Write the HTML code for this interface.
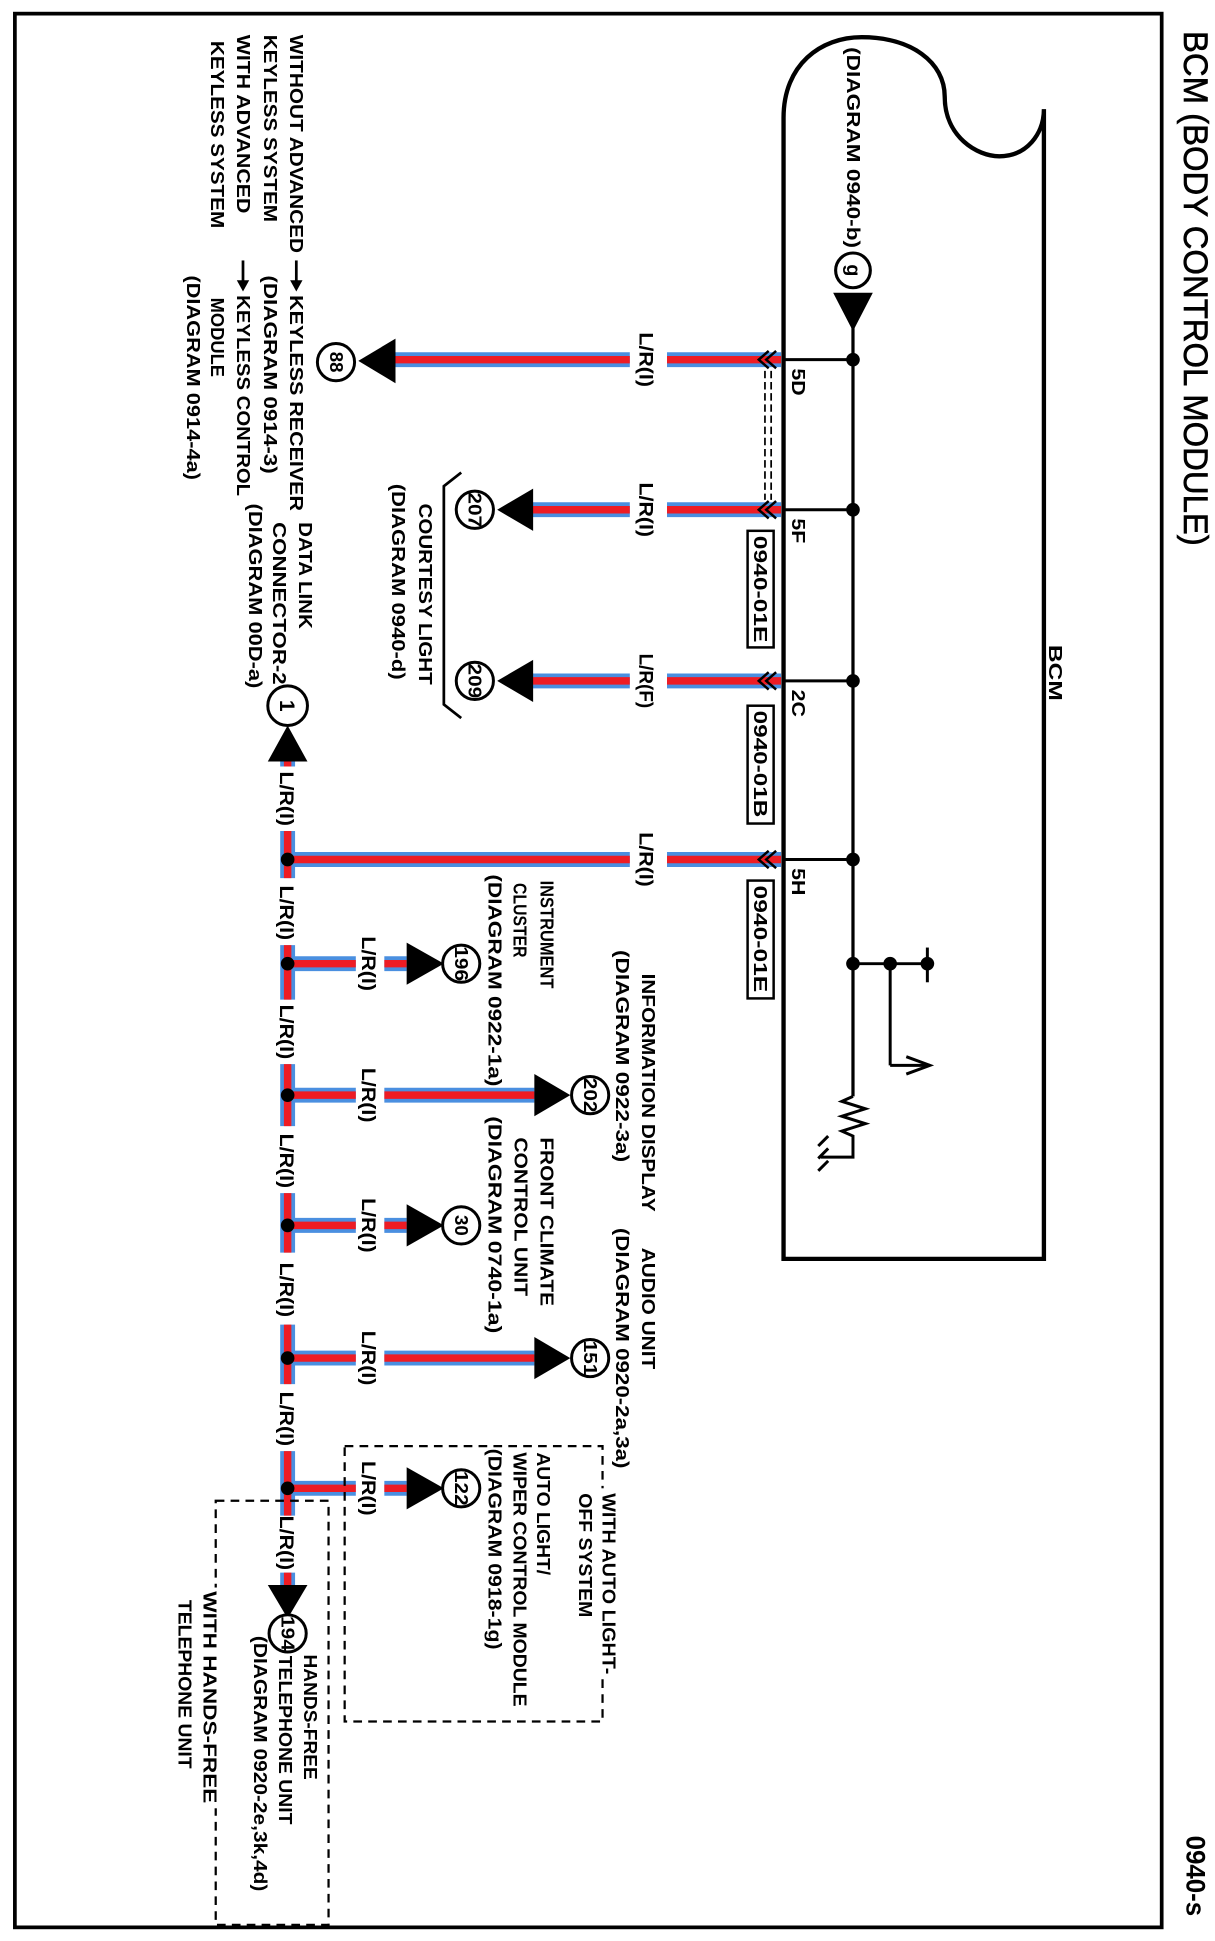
<!DOCTYPE html>
<html><head><meta charset="utf-8"><style>
html,body{margin:0;padding:0;background:#fff;}
svg{display:block;}
text{font-family:"Liberation Sans",Arial,sans-serif;fill:#000;}
.b text{font-weight:bold;}
</style></head><body>
<svg width="1215" height="1941" viewBox="0 0 980 1565" preserveAspectRatio="none" xmlns="http://www.w3.org/2000/svg">
<rect x="0" y="0" width="980" height="1565" fill="#fff"/>
<rect x="12" y="11" width="925" height="1543" fill="none" stroke="#000" stroke-width="3"/>

<!-- Title -->
<text transform="translate(955,25) rotate(90)" font-size="28" textLength="415" lengthAdjust="spacingAndGlyphs" stroke="#000" stroke-width="0.5">BCM (BODY CONTROL MODULE)</text>
<text transform="translate(957,1480) rotate(90)" font-size="22" font-weight="bold" textLength="65" lengthAdjust="spacingAndGlyphs">0940-s</text>

<!-- BCM box -->
<path d="M632,1015 V95 C632,52 662,30 695,30 C735,30 762,50 762,78 C762,110 788,126 806,126 C828,126 842,108 842,88 V1015 Z" fill="none" stroke="#000" stroke-width="3.5"/>
<g class="b">
<text transform="translate(846,520) rotate(90)" font-size="15" textLength="45" lengthAdjust="spacingAndGlyphs">BCM</text>
<text transform="translate(683,38) rotate(90)" font-size="15" textLength="162" lengthAdjust="spacingAndGlyphs">(DIAGRAM 0940-b)</text>
</g>

<!-- g connector -->
<circle cx="688" cy="218" r="14" fill="#fff" stroke="#000" stroke-width="2.5"/>
<text transform="translate(683,218) rotate(90)" font-size="16" font-weight="bold" text-anchor="middle">g</text>
<polygon points="672,236 704,236 688,267" fill="#000"/>

<!-- internal bus -->
<line x1="688" y1="262" x2="688" y2="884" stroke="#000" stroke-width="2.6"/>
<g stroke="#000" stroke-width="2.4">
<line x1="632" y1="290" x2="688" y2="290"/>
<line x1="632" y1="411" x2="688" y2="411"/>
<line x1="632" y1="549" x2="688" y2="549"/>
<line x1="632" y1="693" x2="688" y2="693"/>
<line x1="688" y1="777" x2="748" y2="777"/>
<line x1="748" y1="764" x2="748" y2="792"/>
<line x1="718" y1="777" x2="718" y2="859"/>
<line x1="718" y1="859" x2="750" y2="859"/>
<polyline points="731,852 750,859 731,866" fill="none"/>
<polyline points="688,884 679,888 698,894 679,900 698,906 679,912 688,916 688,933 662,933" fill="none"/>
<line x1="668" y1="916" x2="660" y2="924"/>
<line x1="668" y1="926" x2="660" y2="934"/>
<line x1="668" y1="936" x2="660" y2="944"/>
</g>
<g fill="#000">
<circle cx="688" cy="290" r="5.5"/><circle cx="688" cy="411" r="5.5"/><circle cx="688" cy="549" r="5.5"/>
<circle cx="688" cy="693" r="5.5"/><circle cx="688" cy="777" r="5.5"/><circle cx="718" cy="777" r="5.5"/><circle cx="748" cy="777" r="5.5"/>
</g>
<g font-size="15" font-weight="bold">
<text transform="translate(639,297) rotate(90)" textLength="22" lengthAdjust="spacingAndGlyphs">5D</text>
<text transform="translate(639,418) rotate(90)" textLength="20" lengthAdjust="spacingAndGlyphs">5F</text>
<text transform="translate(639,556) rotate(90)" textLength="22" lengthAdjust="spacingAndGlyphs">2C</text>
<text transform="translate(639,700) rotate(90)" textLength="22" lengthAdjust="spacingAndGlyphs">5H</text>
</g>

<!-- connector boxes -->
<g fill="#fff" stroke="#000" stroke-width="2">
<rect x="603" y="428" width="21" height="94"/>
<rect x="603" y="569" width="21" height="95"/>
<rect x="603" y="710" width="21" height="95"/>
</g>
<g font-size="15" class="b">
<text transform="translate(608,432) rotate(90)" textLength="86" lengthAdjust="spacingAndGlyphs">0940-01E</text>
<text transform="translate(608,573) rotate(90)" textLength="86" lengthAdjust="spacingAndGlyphs">0940-01B</text>
<text transform="translate(608,714) rotate(90)" textLength="86" lengthAdjust="spacingAndGlyphs">0940-01E</text>
</g>

<!-- dashed double line 5D-5F -->
<g stroke="#000" stroke-width="1.4" stroke-dasharray="6,3">
<line x1="617" y1="299" x2="617" y2="403"/>
<line x1="622" y1="299" x2="622" y2="403"/>
</g>

<!-- wires -->
<g stroke="#4a8fe0" stroke-width="12" fill="none">
<path d="M630,290 H538 M508,290 H318"/>
<path d="M630,411 H538 M508,411 H428"/>
<path d="M630,549 H538 M508,549 H428"/>
<path d="M630,693 H538 M508,693 H232"/>
<path d="M232,612 V618 M232,670 V708 M232,762 V806 M232,858 V908 M232,962 V1010 M232,1068 V1116 M232,1170 V1222 M232,1268 V1280"/>
<path d="M232,777 H287 M310,777 H328"/>
<path d="M232,883 H287 M310,883 H431"/>
<path d="M232,988 H287 M310,988 H328"/>
<path d="M232,1095 H287 M310,1095 H431"/>
<path d="M232,1200 H287 M310,1200 H328"/>
</g>
<g stroke="#ee1c24" stroke-width="6" fill="none">
<path d="M630,290 H538 M508,290 H318"/>
<path d="M630,411 H538 M508,411 H428"/>
<path d="M630,549 H538 M508,549 H428"/>
<path d="M630,693 H538 M508,693 H232"/>
<path d="M232,612 V618 M232,670 V708 M232,762 V806 M232,858 V908 M232,962 V1010 M232,1068 V1116 M232,1170 V1222 M232,1268 V1280"/>
<path d="M232,777 H287 M310,777 H328"/>
<path d="M232,883 H287 M310,883 H431"/>
<path d="M232,988 H287 M310,988 H328"/>
<path d="M232,1095 H287 M310,1095 H431"/>
<path d="M232,1200 H287 M310,1200 H328"/>
</g>

<!-- chevrons -->
<g stroke="#000" stroke-width="2" fill="none">
<polyline points="620,283 612,290 620,297"/><polyline points="626,283 618,290 626,297"/>
<polyline points="620,404 612,411 620,418"/><polyline points="626,404 618,411 626,418"/>
<polyline points="620,542 612,549 620,556"/><polyline points="626,542 618,549 626,556"/>
<polyline points="620,686 612,693 620,700"/><polyline points="626,686 618,693 626,700"/>
</g>

<g fill="#000">
<circle cx="232" cy="693" r="5.5"/><circle cx="232" cy="777" r="5.5"/><circle cx="232" cy="883" r="5.5"/>
<circle cx="232" cy="988" r="5.5"/><circle cx="232" cy="1095" r="5.5"/><circle cx="232" cy="1200" r="5.5"/>
</g>

<!-- wire labels -->
<g font-size="16" class="b">
<text transform="translate(516,268) rotate(90)" textLength="44" lengthAdjust="spacingAndGlyphs">L/R(I)</text>
<text transform="translate(516,389) rotate(90)" textLength="44" lengthAdjust="spacingAndGlyphs">L/R(I)</text>
<text transform="translate(516,527) rotate(90)" textLength="44" lengthAdjust="spacingAndGlyphs">L/R(F)</text>
<text transform="translate(516,671) rotate(90)" textLength="44" lengthAdjust="spacingAndGlyphs">L/R(I)</text>
<text transform="translate(226,622) rotate(90)" textLength="44" lengthAdjust="spacingAndGlyphs">L/R(I)</text>
<text transform="translate(226,714) rotate(90)" textLength="44" lengthAdjust="spacingAndGlyphs">L/R(I)</text>
<text transform="translate(226,810) rotate(90)" textLength="44" lengthAdjust="spacingAndGlyphs">L/R(I)</text>
<text transform="translate(226,914) rotate(90)" textLength="44" lengthAdjust="spacingAndGlyphs">L/R(I)</text>
<text transform="translate(226,1018) rotate(90)" textLength="44" lengthAdjust="spacingAndGlyphs">L/R(I)</text>
<text transform="translate(226,1122) rotate(90)" textLength="44" lengthAdjust="spacingAndGlyphs">L/R(I)</text>
<text transform="translate(226,1222) rotate(90)" textLength="44" lengthAdjust="spacingAndGlyphs">L/R(I)</text>
<text transform="translate(292,755) rotate(90)" textLength="44" lengthAdjust="spacingAndGlyphs">L/R(I)</text>
<text transform="translate(292,861) rotate(90)" textLength="44" lengthAdjust="spacingAndGlyphs">L/R(I)</text>
<text transform="translate(292,966) rotate(90)" textLength="44" lengthAdjust="spacingAndGlyphs">L/R(I)</text>
<text transform="translate(292,1073) rotate(90)" textLength="44" lengthAdjust="spacingAndGlyphs">L/R(I)</text>
<text transform="translate(292,1178) rotate(90)" textLength="44" lengthAdjust="spacingAndGlyphs">L/R(I)</text>
</g>

<!-- triangles -->
<g fill="#000">
<polygon points="319,273 319,309 289,291"/>
<polygon points="430,394 430,428 401,411"/>
<polygon points="430,532 430,566 401,549"/>
<polygon points="216,614 248,614 232,585"/>
<polygon points="328,760 328,794 358,777"/>
<polygon points="431,866 431,900 460,883"/>
<polygon points="328,971 328,1005 358,988"/>
<polygon points="431,1078 431,1112 460,1095"/>
<polygon points="328,1183 328,1217 358,1200"/>
<polygon points="216,1278 248,1278 232,1305"/>
</g>

<!-- circles -->
<g fill="#fff" stroke="#000" stroke-width="2.4">
<circle cx="271" cy="292" r="15"/>
<circle cx="383" cy="411" r="15"/>
<circle cx="383" cy="549" r="15"/>
<circle cx="232" cy="569" r="16"/>
<circle cx="372" cy="777" r="15"/>
<circle cx="476" cy="883" r="15"/>
<circle cx="372" cy="988" r="15"/>
<circle cx="476" cy="1095" r="15"/>
<circle cx="372" cy="1200" r="15"/>
<circle cx="232" cy="1317" r="15"/>
</g>
<g font-size="15" font-weight="bold" text-anchor="middle">
<text transform="translate(266,292) rotate(90)">88</text>
<text transform="translate(378,411) rotate(90)" textLength="28" lengthAdjust="spacingAndGlyphs">207</text>
<text transform="translate(378,549) rotate(90)" textLength="28" lengthAdjust="spacingAndGlyphs">209</text>
<text transform="translate(226,569) rotate(90)" font-size="17">1</text>
<text transform="translate(367,777) rotate(90)" textLength="28" lengthAdjust="spacingAndGlyphs">196</text>
<text transform="translate(471,883) rotate(90)" textLength="28" lengthAdjust="spacingAndGlyphs">202</text>
<text transform="translate(367,988) rotate(90)">30</text>
<text transform="translate(471,1095) rotate(90)" textLength="28" lengthAdjust="spacingAndGlyphs">151</text>
<text transform="translate(367,1200) rotate(90)" textLength="28" lengthAdjust="spacingAndGlyphs">122</text>
<text transform="translate(227,1317) rotate(90)" textLength="28" lengthAdjust="spacingAndGlyphs">194</text>
</g>

<!-- courtesy bracket -->
<polyline points="372,381 358,392 358,568 372,579" fill="none" stroke="#000" stroke-width="2.2"/>

<!-- keyless arrows -->
<g stroke="#000" stroke-width="2.2"><line x1="239" y1="210" x2="239" y2="228"/><line x1="196" y1="210" x2="196" y2="228"/></g>
<g fill="#000"><polygon points="234,226 244,226 239,235"/><polygon points="191,226 201,226 196,235"/></g>

<!-- labels -->
<g font-size="15" class="b">
<text transform="translate(234,28) rotate(90)" textLength="176" lengthAdjust="spacingAndGlyphs">WITHOUT ADVANCED</text>
<text transform="translate(234,238) rotate(90)" textLength="174" lengthAdjust="spacingAndGlyphs">KEYLESS RECEIVER</text>
<text transform="translate(213,28) rotate(90)" textLength="151" lengthAdjust="spacingAndGlyphs">KEYLESS SYSTEM</text>
<text transform="translate(213,222) rotate(90)" textLength="160" lengthAdjust="spacingAndGlyphs">(DIAGRAM 0914-3)</text>
<text transform="translate(191,28) rotate(90)" textLength="144" lengthAdjust="spacingAndGlyphs">WITH ADVANCED</text>
<text transform="translate(191,238) rotate(90)" textLength="162" lengthAdjust="spacingAndGlyphs">KEYLESS CONTROL</text>
<text transform="translate(170,33) rotate(90)" textLength="151" lengthAdjust="spacingAndGlyphs">KEYLESS SYSTEM</text>
<text transform="translate(170,240) rotate(90)" textLength="64" lengthAdjust="spacingAndGlyphs">MODULE</text>
<text transform="translate(151,222) rotate(90)" textLength="165" lengthAdjust="spacingAndGlyphs">(DIAGRAM 0914-4a)</text>

<text transform="translate(241,421) rotate(90)" textLength="86" lengthAdjust="spacingAndGlyphs">DATA LINK</text>
<text transform="translate(220,421) rotate(90)" textLength="131" lengthAdjust="spacingAndGlyphs">CONNECTOR-2</text>
<text transform="translate(201,406) rotate(90)" textLength="149" lengthAdjust="spacingAndGlyphs">(DIAGRAM 00D-a)</text>

<text transform="translate(338,406) rotate(90)" textLength="146" lengthAdjust="spacingAndGlyphs">COURTESY LIGHT</text>
<text transform="translate(316,390) rotate(90)" textLength="158" lengthAdjust="spacingAndGlyphs">(DIAGRAM 0940-d)</text>

<text transform="translate(436,710) rotate(90)" textLength="87" lengthAdjust="spacingAndGlyphs">INSTRUMENT</text>
<text transform="translate(414,712) rotate(90)" textLength="60" lengthAdjust="spacingAndGlyphs">CLUSTER</text>
<text transform="translate(394,705) rotate(90)" textLength="171" lengthAdjust="spacingAndGlyphs">(DIAGRAM  0922-1a)</text>

<text transform="translate(518,785) rotate(90)" textLength="192" lengthAdjust="spacingAndGlyphs">INFORMATION DISPLAY</text>
<text transform="translate(497,766) rotate(90)" textLength="171" lengthAdjust="spacingAndGlyphs">(DIAGRAM 0922-3a)</text>

<text transform="translate(436,917) rotate(90)" textLength="136" lengthAdjust="spacingAndGlyphs">FRONT CLIMATE</text>
<text transform="translate(415,917) rotate(90)" textLength="128" lengthAdjust="spacingAndGlyphs">CONTROL UNIT</text>
<text transform="translate(394,900) rotate(90)" textLength="175" lengthAdjust="spacingAndGlyphs">(DIAGRAM 0740-1a)</text>

<text transform="translate(518,1006) rotate(90)" textLength="98" lengthAdjust="spacingAndGlyphs">AUDIO UNIT</text>
<text transform="translate(497,990) rotate(90)" textLength="194" lengthAdjust="spacingAndGlyphs">(DIAGRAM 0920-2a,3a)</text>
</g>

<!-- dashed option boxes -->
<rect x="278" y="1166" width="208" height="222" fill="none" stroke="#000" stroke-width="1.8" stroke-dasharray="7,5"/>
<rect x="174" y="1210" width="91" height="342" fill="none" stroke="#000" stroke-width="1.8" stroke-dasharray="7,5"/>
<rect x="480" y="1200" width="14" height="150" fill="#fff"/>
<rect x="168" y="1280" width="12" height="178" fill="#fff"/>

<g font-size="15" class="b">
<text transform="translate(486,1204) rotate(90)" textLength="146" lengthAdjust="spacingAndGlyphs">WITH AUTO LIGHT-</text>
<text transform="translate(467,1204) rotate(90)" textLength="100" lengthAdjust="spacingAndGlyphs">OFF SYSTEM</text>
<text transform="translate(433,1171) rotate(90)" textLength="99" lengthAdjust="spacingAndGlyphs">AUTO LIGHT/</text>
<text transform="translate(414,1171) rotate(90)" textLength="205" lengthAdjust="spacingAndGlyphs">WIPER CONTROL MODULE</text>
<text transform="translate(394,1168) rotate(90)" textLength="162" lengthAdjust="spacingAndGlyphs">(DIAGRAM  0918-1g)</text>

<text transform="translate(245,1334) rotate(90)" textLength="101" lengthAdjust="spacingAndGlyphs">HANDS-FREE</text>
<text transform="translate(225,1335) rotate(90)" textLength="136" lengthAdjust="spacingAndGlyphs">TELEPHONE UNIT</text>
<text transform="translate(205,1319) rotate(90)" textLength="206" lengthAdjust="spacingAndGlyphs">(DIAGRAM 0920-2e,3k,4d)</text>
<text transform="translate(164,1283) rotate(90)" textLength="171" lengthAdjust="spacingAndGlyphs">WITH HANDS-FREE</text>
<text transform="translate(144,1290) rotate(90)" textLength="136" lengthAdjust="spacingAndGlyphs">TELEPHONE UNIT</text>
</g>
</svg>
</body></html>
